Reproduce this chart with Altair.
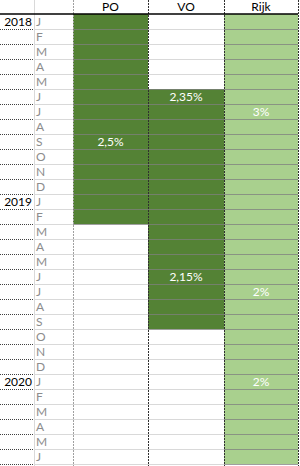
import altair as alt
import pandas as pd

# ---- data ----
months = ["J", "F", "M", "A", "M", "J", "J", "A", "S", "O", "N", "D",
          "J", "F", "M", "A", "M", "J", "J", "A", "S", "O", "N", "D",
          "J", "F", "M", "A", "M", "J"]
year_labels = ["2018"] + [""] * 11 + ["2019"] + [""] * 11 + ["2020"] + [""] * 5
columns = ["PO", "VO", "Rijk"]
po_filled = [1] * 14 + [0] * 16
vo_filled = [0] * 5 + [1] * 16 + [0] * 9
rijk_filled = [1] * 30
label_col = ["PO", "VO", "VO", "Rijk", "Rijk", "Rijk"]
label_row = [8, 5, 17, 6, 18, 24]
label_text = ["2,5%", "2,35%", "2,15%", "3%", "2%", "2%"]

# ---- layout / style ----
W, H = 300, 466
col_edges = {"year": (0, 34), "month": (34, 73), "PO": (73, 148), "VO": (148, 224), "Rijk": (224, 298)}
col_color = {"PO": "#548235", "VO": "#548235", "Rijk": "#a9d08e"}
FONT = "Lato"
FS = 12
n = len(months)

xs = alt.Scale(domain=[0, W], nice=False, zero=False)
ys = alt.Scale(domain=[-14 / 15, 452 / 15], reverse=True, nice=False, zero=False)

filled = {"PO": po_filled, "VO": vo_filled, "Rijk": rijk_filled}

# fills
fill_rows = []
for c in columns:
    for i, f in enumerate(filled[c]):
        if f:
            fill_rows.append({"x0": col_edges[c][0], "x1": col_edges[c][1], "r0": i, "r1": i + 1,
                              "color": col_color[c]})
fills = alt.Chart(pd.DataFrame(fill_rows)).mark_rect().encode(
    x=alt.X("x0:Q", scale=xs, axis=None), x2="x1",
    y=alt.Y("r0:Q", scale=ys, axis=None), y2="r1",
    color=alt.Color("color:N", scale=None))

# horizontal lines
light, onfill, dotted = [], [], []
for i in range(n):
    r = i + 1
    dotted.append({"x0": col_edges["year"][0], "x1": col_edges["year"][1], "r": r})
    light.append({"x0": col_edges["month"][0], "x1": col_edges["month"][1], "r": r})
    for c in columns:
        f = filled[c][i] or (i + 1 < n and filled[c][i + 1])
        rec = {"x0": col_edges[c][0], "x1": col_edges[c][1], "r": r}
        (onfill if f else light).append(rec)


def hrule(rows, color, dash=None, opacity=1.0):
    kw = dict(color=color, strokeWidth=1, yOffset=0.5, opacity=opacity)
    if dash:
        kw["strokeDash"] = dash
    return alt.Chart(pd.DataFrame(rows)).mark_rule(**kw).encode(
        x=alt.X("x0:Q", scale=xs, axis=None), x2="x1",
        y=alt.Y("r:Q", scale=ys, axis=None))


h_light = hrule(light, "#d9d9d9")
h_fill = hrule(onfill, "#7f7f7f", opacity=0.75)
h_dot = hrule(dotted, "#404040", dash=[1, 1])
header_line = alt.Chart(pd.DataFrame([{"x0": 0, "x1": col_edges["Rijk"][1], "r": 0}])).mark_rule(
    color="#000000", strokeWidth=1.5).encode(
    x=alt.X("x0:Q", scale=xs, axis=None), x2="x1", y=alt.Y("r:Q", scale=ys, axis=None))

# vertical lines
top, bottom = -14 / 15, 452 / 15
v_light = alt.Chart(pd.DataFrame([{"x": col_edges["month"][0], "a": top, "b": bottom}])).mark_rule(
    color="#d9d9d9", xOffset=0.5).encode(
    x=alt.X("x:Q", scale=xs, axis=None), y=alt.Y("a:Q", scale=ys, axis=None), y2="b")
v_gray = alt.Chart(pd.DataFrame([{"x": col_edges["PO"][0], "a": top, "b": bottom}])).mark_rule(
    color="#a0a0a0", strokeDash=[2, 1], xOffset=0.5).encode(
    x=alt.X("x:Q", scale=xs, axis=None), y=alt.Y("a:Q", scale=ys, axis=None), y2="b")
v_dark = alt.Chart(pd.DataFrame([{"x": col_edges[c][1], "a": top, "b": bottom} for c in columns])).mark_rule(
    color="#303030", strokeDash=[2, 1], xOffset=0.5).encode(
    x=alt.X("x:Q", scale=xs, axis=None), y=alt.Y("a:Q", scale=ys, axis=None), y2="b")

# header texts
hdr = pd.DataFrame([{"x": (col_edges[c][0] + col_edges[c][1]) / 2, "r": -0.45, "t": c} for c in columns])
hdr_text = alt.Chart(hdr).mark_text(font=FONT, fontSize=FS, color="#000000", baseline="middle").encode(
    x=alt.X("x:Q", scale=xs, axis=None), y=alt.Y("r:Q", scale=ys, axis=None), text="t:N")

# year + month texts
ydf = pd.DataFrame([{"x": 32, "r": i + 0.5, "t": t} for i, t in enumerate(year_labels) if t])
year_text = alt.Chart(ydf).mark_text(font=FONT, fontSize=FS, color="#000000", align="right",
                                     baseline="middle").encode(
    x=alt.X("x:Q", scale=xs, axis=None), y=alt.Y("r:Q", scale=ys, axis=None), text="t:N")
mdf = pd.DataFrame([{"x": 36, "r": i + 0.5, "t": t} for i, t in enumerate(months)])
month_text = alt.Chart(mdf).mark_text(font=FONT, fontSize=FS, color="#8c8c8c", align="left",
                                      baseline="middle").encode(
    x=alt.X("x:Q", scale=xs, axis=None), y=alt.Y("r:Q", scale=ys, axis=None), text="t:N")

# cell labels
ldf = pd.DataFrame([{"x": (col_edges[c][0] + col_edges[c][1]) / 2, "r": r + 0.5, "t": t}
                    for c, r, t in zip(label_col, label_row, label_text)])
cell_text = alt.Chart(ldf).mark_text(font=FONT, fontSize=FS, color="#ffffff", baseline="middle").encode(
    x=alt.X("x:Q", scale=xs, axis=None), y=alt.Y("r:Q", scale=ys, axis=None), text="t:N")

chart = alt.layer(fills, h_light, h_fill, h_dot, v_light, v_gray, v_dark, header_line,
                  hdr_text, year_text, month_text, cell_text).properties(
    width=W, height=H, padding=0, autosize=alt.AutoSizeParams(type="none"),
    background="#ffffff").configure_view(stroke=None)

chart.save("out.html", embed_options={"renderer": "svg", "actions": False})
